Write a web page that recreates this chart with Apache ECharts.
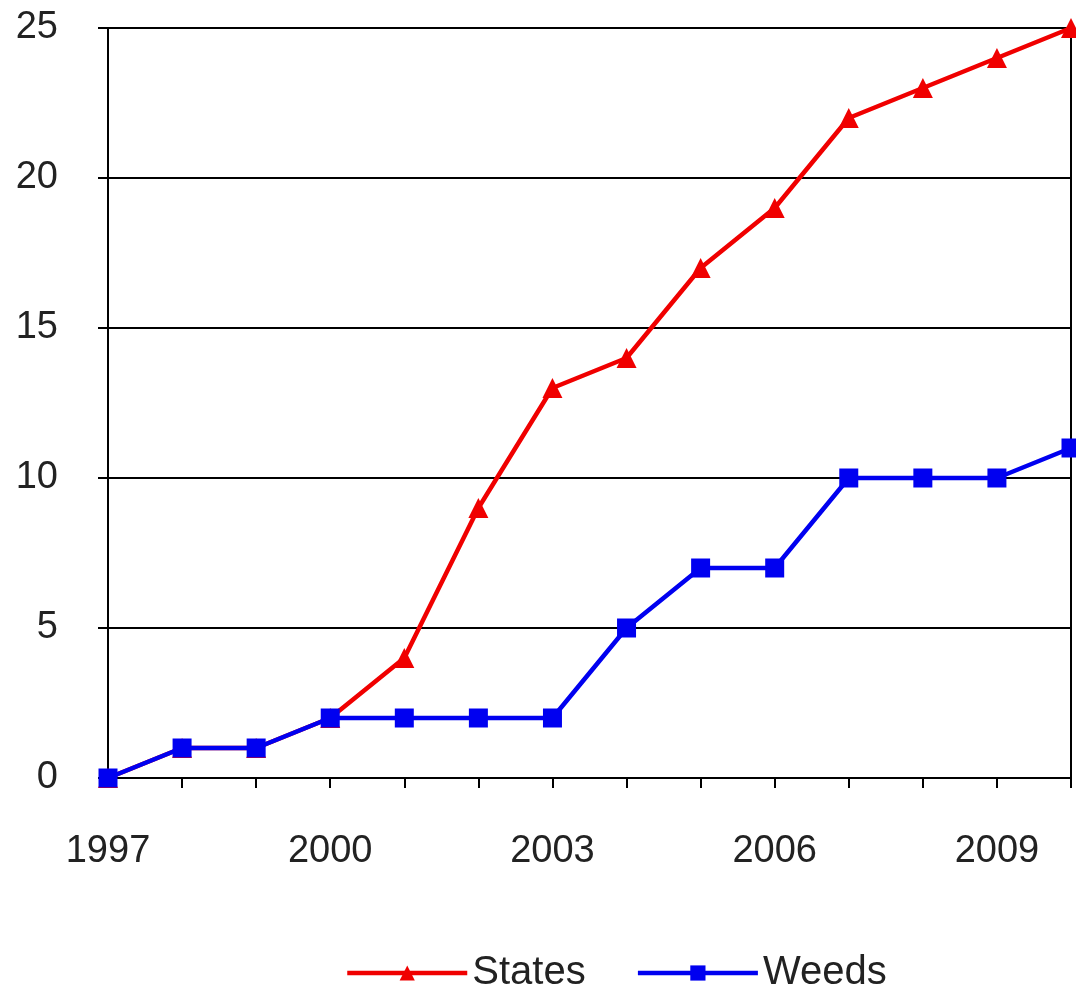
<!DOCTYPE html>
<html>
<head>
<meta charset="utf-8">
<script src="https://cdn.jsdelivr.net/npm/echarts@6/dist/echarts.min.js"></script>
<style>
  html, body { margin: 0; padding: 0; background: #fff; }
  #chart { width: 1076px; height: 987px; }
</style>
</head>
<body>
<div id="chart"></div>
<script>
// Years on the category axis
const years = ['1997','1998','1999','2000','2001','2002','2003','2004','2005','2006','2007','2008','2009','2010'];
// Cumulative counts per year
const states = [0, 1, 1, 2, 4, 9, 13, 14, 17, 19, 22, 23, 24, 25];
const weeds  = [0, 1, 1, 2, 2, 2, 2, 5, 7, 7, 10, 10, 10, 11];
// Value axis range
const yMin = 0, yMax = 25, yStep = 5;

const textFont = { fontFamily: 'Liberation Sans, Arial, sans-serif', fontSize: 38, color: '#222' };

const chart = echarts.init(document.getElementById('chart'), null, { renderer: 'canvas' });
chart.setOption({
  animation: false,
  backgroundColor: '#fff',
  grid: {
    left: 108, right: 5, top: 28, bottom: 209,
    show: true, borderColor: '#000', borderWidth: 2, backgroundColor: 'transparent'
  },
  legend: {
    top: 948, left: 340,
    itemWidth: 120, itemHeight: 19, itemGap: 50,
    lineStyle: { width: 4.5 },
    textStyle: Object.assign({}, textFont, { fontSize: 40, padding: [0, 0, 0, 0] }),
    data: ['States', 'Weeds']
  },
  xAxis: {
    type: 'category',
    data: years,
    boundaryGap: false,
    axisLine: { lineStyle: { color: '#000', width: 2 } },
    axisTick: { show: true, length: 10, interval: 0, lineStyle: { color: '#000', width: 2 } },
    axisLabel: Object.assign({ interval: 2, margin: 55 }, textFont),
    splitLine: { show: false }
  },
  yAxis: {
    type: 'value',
    min: yMin, max: yMax, interval: yStep,
    axisLine: { show: true, lineStyle: { color: '#000', width: 2 } },
    axisTick: { show: true, length: 10, lineStyle: { color: '#000', width: 2 } },
    axisLabel: Object.assign({ margin: 50 }, textFont),
    splitLine: { show: true, lineStyle: { color: '#000', width: 2 } }
  },
  series: [
    {
      name: 'States', type: 'line', data: states,
      symbol: 'triangle', symbolSize: 20, showAllSymbol: true,
      lineStyle: { color: '#f00000', width: 4.5 },
      itemStyle: { color: '#f00000' },
      z: 2
    },
    {
      name: 'Weeds', type: 'line', data: weeds,
      symbol: 'rect', symbolSize: 19, showAllSymbol: true,
      lineStyle: { color: '#0000f0', width: 4.5 },
      itemStyle: { color: '#0000f0' },
      z: 3
    }
  ]
});
</script>
</body>
</html>
